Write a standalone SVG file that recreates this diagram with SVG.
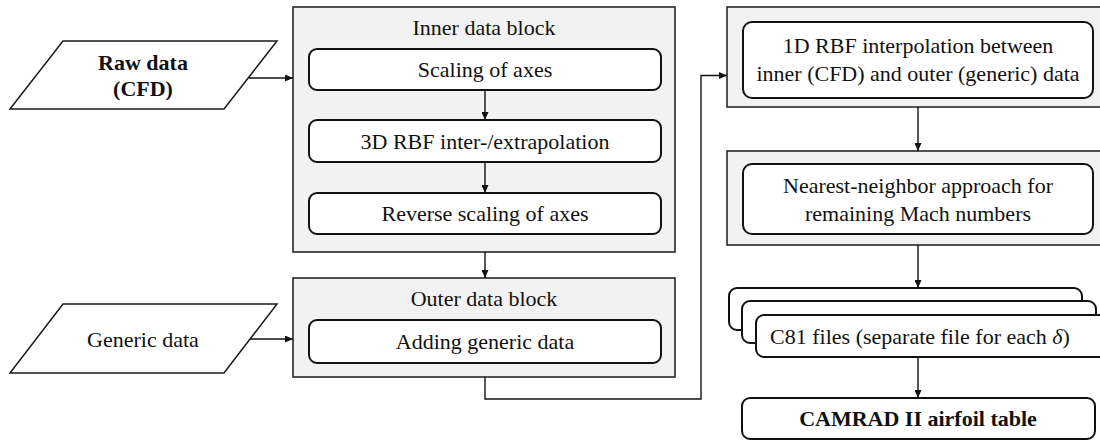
<svg xmlns="http://www.w3.org/2000/svg" width="1100" height="441" viewBox="0 0 1100 441">
<style>
text{font-family:'Liberation Serif',Tinos,'Times New Roman',Times,'DejaVu Serif','Noto Serif',serif;font-size:22px;fill:#111;text-anchor:middle}
.b{font-weight:bold}
.blk{fill:#f2f2f2;stroke:#1a1a1a;stroke-width:1.5}
.rb{fill:#fff;stroke:#111;stroke-width:2}
.par{fill:#fff;stroke:#1a1a1a;stroke-width:1.5}
.con{fill:none;stroke:#111;stroke-width:1.4}
</style>
<defs>
<marker id="ah" markerUnits="userSpaceOnUse" markerWidth="8" markerHeight="7" refX="8" refY="3.5" orient="auto">
<path d="M0,0 L8,3.5 L0,7 z" fill="#111"/>
</marker>
</defs>
<g id="raw-data">
<polygon class="par" points="63,41 277,41 224,109 10,109"/>
<text class="b" x="143" y="70" font-family="Liberation Serif, serif">Raw data</text>
<text class="b" x="143" y="96" font-family="Liberation Serif, serif">(CFD)</text>
</g>
<g id="generic-data">
<polygon class="par" points="63,304 277,304 224,373 10,373"/>
<text x="143" y="347" font-family="Liberation Serif, serif">Generic data</text>
</g>
<g id="inner-block">
<rect class="blk" x="293" y="7" width="382" height="245"/>
<text x="484" y="35" font-family="Liberation Serif, serif">Inner data block</text>
</g>
<g id="scaling">
<rect class="rb" x="309" y="49" width="352" height="41" rx="8"/>
<text x="485" y="77" font-family="Liberation Serif, serif">Scaling of axes</text>
</g>
<g id="rbf3d">
<rect class="rb" x="309" y="120" width="352" height="42" rx="8"/>
<text x="485" y="148.5" font-family="Liberation Serif, serif">3D RBF inter-/extrapolation</text>
</g>
<g id="reverse">
<rect class="rb" x="309" y="193" width="352" height="41" rx="8"/>
<text x="485" y="221" font-family="Liberation Serif, serif">Reverse scaling of axes</text>
</g>
<g id="outer-block">
<rect class="blk" x="293" y="278" width="382" height="99"/>
<text x="484" y="306" font-family="Liberation Serif, serif">Outer data block</text>
</g>
<g id="adding">
<rect class="rb" x="309" y="320" width="352" height="43" rx="8"/>
<text x="485" y="349" font-family="Liberation Serif, serif">Adding generic data</text>
</g>
<g id="rbf1d">
<rect class="blk" x="727" y="7" width="390" height="100"/>
<rect class="rb" x="743" y="22" width="350" height="76" rx="9"/>
<text x="918" y="53" font-family="Liberation Serif, serif">1D RBF interpolation between</text>
<text x="918" y="81" font-family="Liberation Serif, serif">inner (CFD) and outer (generic) data</text>
</g>
<g id="nearest">
<rect class="blk" x="727" y="151" width="390" height="94"/>
<rect class="rb" x="743" y="164" width="350" height="70" rx="9"/>
<text x="918" y="193" font-family="Liberation Serif, serif">Nearest-neighbor approach for</text>
<text x="918" y="221" font-family="Liberation Serif, serif">remaining Mach numbers</text>
</g>
<g id="c81">
<rect class="rb" x="729" y="288" width="353" height="42" rx="8"/>
<rect class="rb" x="742" y="301" width="354" height="42" rx="8"/>
<rect class="rb" x="756" y="315" width="360" height="42" rx="8"/>
<text x="920" y="344" font-family="Liberation Serif, serif">C81 files (separate file for each <tspan font-style="italic">δ</tspan>)</text>
</g>
<g id="camrad">
<rect class="rb" x="742" y="398" width="353" height="41" rx="8"/>
<text class="b" x="918" y="426" font-family="Liberation Serif, serif">CAMRAD II airfoil table</text>
</g>
<g id="connectors">
<path class="con" marker-end="url(#ah)" d="M249,78 H293"/>
<path class="con" marker-end="url(#ah)" d="M250,339 H293"/>
<path class="con" marker-end="url(#ah)" d="M485,90 V120"/>
<path class="con" marker-end="url(#ah)" d="M485,162 V193"/>
<path class="con" marker-end="url(#ah)" d="M485,252 V278"/>
<path class="con" marker-end="url(#ah)" d="M485,377 V399 H701 V75.5 H727"/>
<path class="con" marker-end="url(#ah)" d="M918,107 V151"/>
<path class="con" marker-end="url(#ah)" d="M918,245 V288"/>
<path class="con" marker-end="url(#ah)" d="M918,357 V398"/>
</g>
</svg>
